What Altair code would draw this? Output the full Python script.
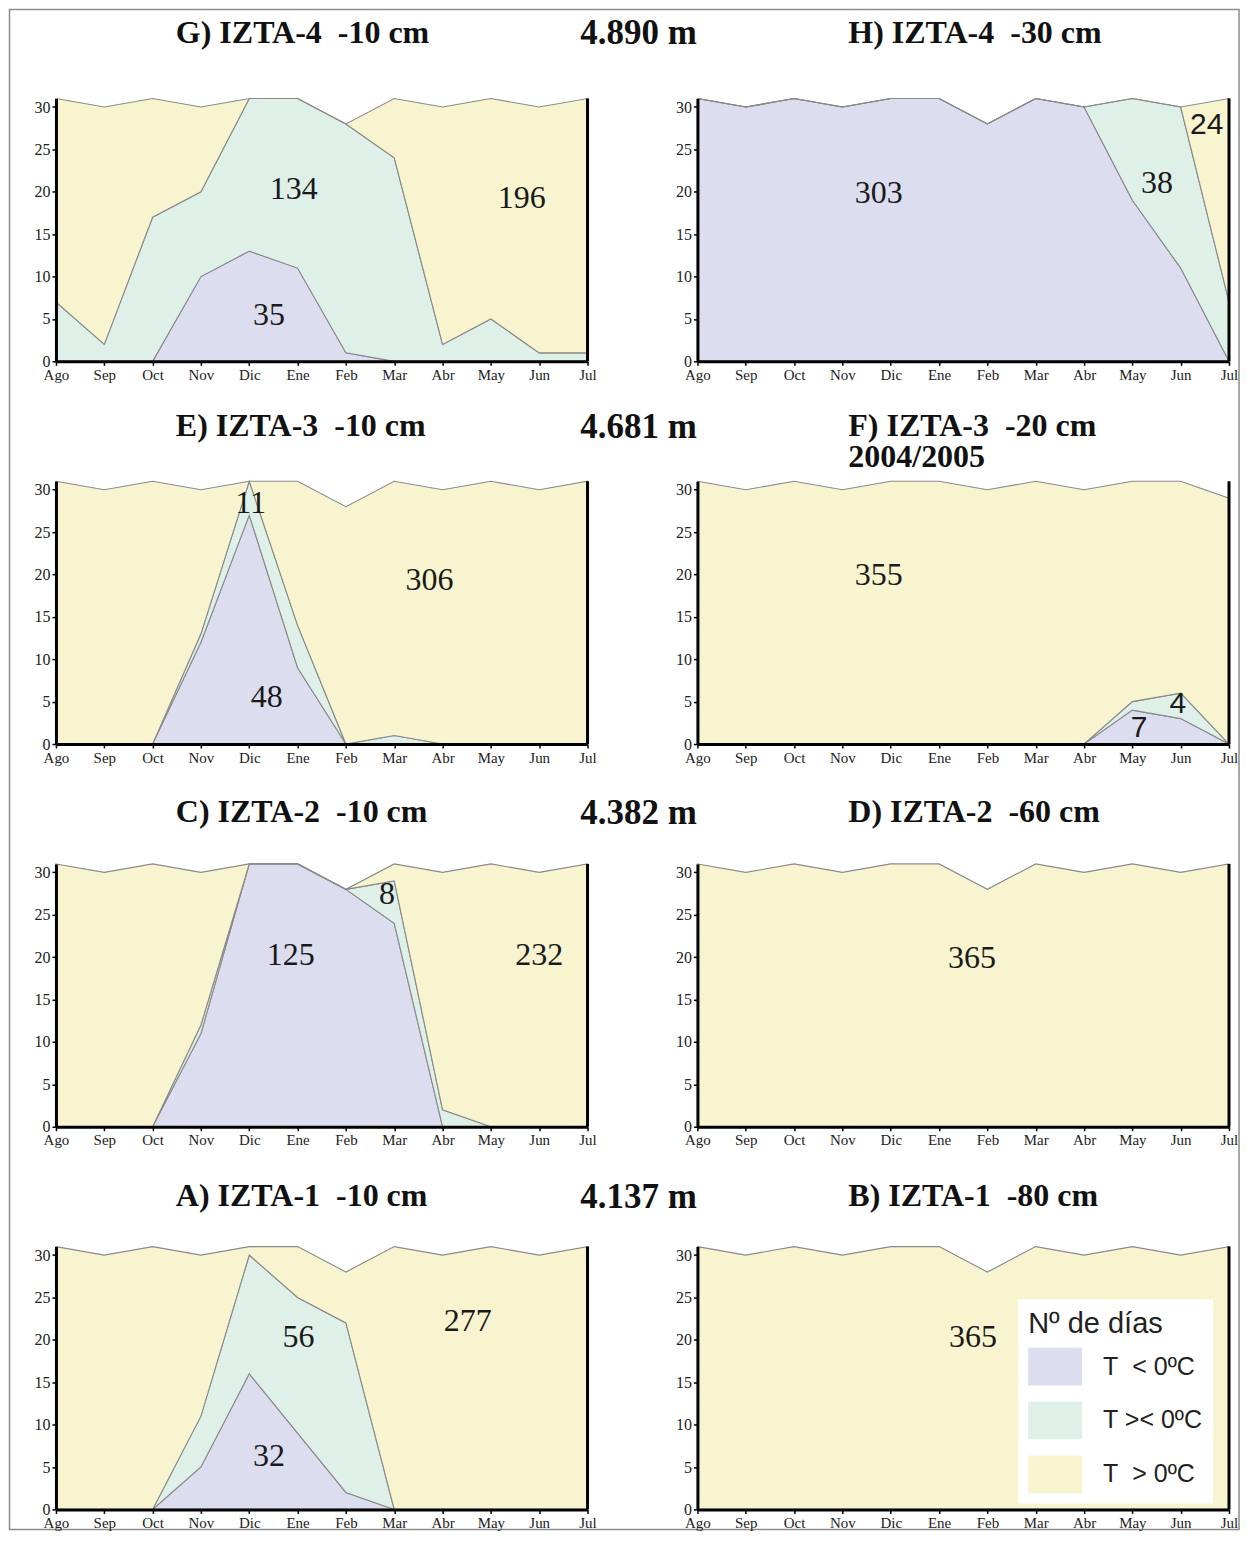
import json
import altair as alt
import pandas as pd

# ---------------- data ----------------
MONTHS = ["Ago", "Sep", "Oct", "Nov", "Dic", "Ene", "Feb", "Mar", "Abr", "May", "Jun", "Jul"]
CATEGORIES = ["T\u00a0\u00a0< 0ºC", "T >< 0ºC", "T\u00a0\u00a0> 0ºC"]
COLORS = ["#dcdef0", "#dff0e9", "#f7f4cf"]
Y_TICKS = [0, 5, 10, 15, 20, 25, 30]
ELEVATIONS = ["4.890 m", "4.681 m", "4.382 m", "4.137 m"]

# G) IZTA-4 -10 cm
G_frozen = [0, 0, 0, 10, 13, 11, 1, 0, 0, 0, 0, 0]
G_mixed = [7, 2, 17, 10, 18, 20, 27, 24, 2, 5, 1, 1]
G_warm = [24, 28, 14, 10, 0, 0, 0, 7, 28, 26, 29, 30]
# H) IZTA-4 -30 cm
H_frozen = [31, 30, 31, 30, 31, 31, 28, 31, 30, 19, 11, 0]
H_mixed = [0, 0, 0, 0, 0, 0, 0, 0, 0, 12, 19, 7]
H_warm = [0, 0, 0, 0, 0, 0, 0, 0, 0, 0, 0, 24]
# E) IZTA-3 -10 cm
E_frozen = [0, 0, 0, 12, 27, 9, 0, 0, 0, 0, 0, 0]
E_mixed = [0, 0, 0, 1, 4, 5, 0, 1, 0, 0, 0, 0]
E_warm = [31, 30, 31, 17, 0, 17, 28, 30, 30, 31, 30, 31]
# F) IZTA-3 -20 cm 2004/2005
F_frozen = [0, 0, 0, 0, 0, 0, 0, 0, 0, 4, 3, 0]
F_mixed = [0, 0, 0, 0, 0, 0, 0, 0, 0, 1, 3, 0]
F_warm = [31, 30, 31, 30, 31, 31, 30, 31, 30, 26, 25, 29]
# C) IZTA-2 -10 cm
C_frozen = [0, 0, 0, 11, 31, 31, 28, 24, 0, 0, 0, 0]
C_mixed = [0, 0, 0, 1, 0, 0, 0, 5, 2, 0, 0, 0]
C_warm = [31, 30, 31, 18, 0, 0, 0, 2, 28, 31, 30, 31]
# D) IZTA-2 -60 cm
D_frozen = [0, 0, 0, 0, 0, 0, 0, 0, 0, 0, 0, 0]
D_mixed = [0, 0, 0, 0, 0, 0, 0, 0, 0, 0, 0, 0]
D_warm = [31, 30, 31, 30, 31, 31, 28, 31, 30, 31, 30, 31]
# A) IZTA-1 -10 cm
A_frozen = [0, 0, 0, 5, 16, 9, 2, 0, 0, 0, 0, 0]
A_mixed = [0, 0, 0, 6, 14, 16, 20, 0, 0, 0, 0, 0]
A_warm = [31, 30, 31, 19, 1, 6, 6, 31, 30, 31, 30, 31]
# B) IZTA-1 -80 cm
B_frozen = [0, 0, 0, 0, 0, 0, 0, 0, 0, 0, 0, 0]
B_mixed = [0, 0, 0, 0, 0, 0, 0, 0, 0, 0, 0, 0]
B_warm = [31, 30, 31, 30, 31, 31, 28, 31, 30, 31, 30, 31]

# annotation totals: (text, month position, days position)
G_notes = [("134", 4.92, 20.3), ("196", 9.64, 19.3), ("35", 4.41, 5.5)]
H_notes = [("303", 3.75, 19.9), ("38", 9.51, 21.0)]
H_notes_sans = [("24", 10.54, 27.9)]
E_notes = [("11", 4.03, 28.4), ("306", 7.73, 19.4), ("48", 4.36, 5.6)]
F_notes = [("355", 3.75, 19.9)]
F_notes_sans = [("4", 9.94, 4.75), ("7", 9.14, 1.9)]
C_notes = [("125", 4.86, 20.3), ("8", 6.85, 27.4), ("232", 10.0, 20.3)]
D_notes = [("365", 5.68, 19.9)]
A_notes = [("56", 5.02, 20.3), ("277", 8.52, 22.2), ("32", 4.41, 6.3)]
B_notes = [("365", 5.70, 20.3)]

TITLES = {
    "G": "G) IZTA-4\u00a0\u00a0-10 cm", "H": "H) IZTA-4\u00a0\u00a0-30 cm",
    "E": "E) IZTA-3\u00a0\u00a0-10 cm", "F": "F) IZTA-3\u00a0\u00a0-20 cm",
    "C": "C) IZTA-2\u00a0\u00a0-10 cm", "D": "D) IZTA-2\u00a0\u00a0-60 cm",
    "A": "A) IZTA-1\u00a0\u00a0-10 cm", "B": "B) IZTA-1\u00a0\u00a0-80 cm",
}
F_SUBTITLE = "2004/2005"

# ---------------- layout / style ----------------
W, H = 532, 263
SERIF = "Liberation Serif"
SANS = "Liberation Sans"
TITLE_Y = [-55.75, -45.75, -41.75, -40.75]
ELEV_Y = [-54.25, -43.75, -39.75, -38.75]

label_expr = json.dumps(MONTHS) + "[datum.value]"
X_SCALE = alt.Scale(domain=[0, 11], nice=False, zero=False)
Y_SCALE = alt.Scale(domain=[0, 31], nice=False)
X_AXIS = alt.Axis(values=list(range(12)), labelExpr=label_expr, title=None, grid=False,
                  labelFont=SERIF, labelFontSize=15, labelColor="#222", labelFlush=False,
                  labelOverlap=False, labelPadding=2, tickSize=4, tickColor="black",
                  tickWidth=1.5, domainColor="black", domainWidth=3, zindex=2)
Y_AXIS = alt.Axis(values=Y_TICKS, title=None, grid=False, labelFont=SERIF, labelFontSize=16,
                  labelColor="#222", labelPadding=2, tickSize=4, tickColor="black",
                  tickWidth=1.5, domainColor="black", domainWidth=3, zindex=2)

LEGEND = alt.Legend(orient="none", legendX=321, legendY=53, title="Nº de días",
                    titleFont=SANS, titleFontSize=29, titleFontWeight="normal",
                    titleColor="#222", titlePadding=1, labelFont=SANS, labelFontSize=25,
                    labelColor="#222", labelOffset=21, symbolType="M-1,-0.7H1V0.7H-1Z",
                    symbolSize=2916, symbolStrokeWidth=0, symbolOpacity=1, rowPadding=8,
                    padding=10, fillColor="white")

one = pd.DataFrame({"k": [0]})


def text_value(txt, x, y, size, font=SERIF, weight="bold", align="left"):
    return alt.Chart(pd.DataFrame({"t": [txt]})).mark_text(
        font=font, fontSize=size, fontWeight=weight, align=align, baseline="alphabetic",
        color="#111").encode(x=alt.value(x), y=alt.value(y), text="t:N")


def notes_layer(notes, font, size):
    df = pd.DataFrame(notes, columns=["t", "mx", "dy"])
    return alt.Chart(df).mark_text(font=font, fontSize=size, color="#1a1a1a",
                                   baseline="middle").encode(
        x=alt.X("mx:Q", scale=X_SCALE, axis=X_AXIS),
        y=alt.Y("dy:Q", scale=Y_SCALE, axis=Y_AXIS),
        text="t:N")


def panel(key, row, col, frozen, mixed, warm, notes, notes_sans=None, legend=False):
    recs = []
    for i in range(len(MONTHS)):
        for k, series in enumerate((frozen, mixed, warm)):
            recs.append({"mes": i, "cat": CATEGORIES[k], "orden": k, "dias": series[i]})
    df = pd.DataFrame(recs)
    area = alt.Chart(df).mark_area(stroke="#8a8a8a", strokeWidth=1.1, fillOpacity=1).encode(
        x=alt.X("mes:Q", scale=X_SCALE, axis=X_AXIS),
        y=alt.Y("dias:Q", stack="zero", scale=Y_SCALE, axis=Y_AXIS),
        color=alt.Color("cat:N", scale=alt.Scale(domain=CATEGORIES, range=COLORS),
                        legend=LEGEND if legend else None),
        order=alt.Order("orden:Q", sort="ascending"),
    )
    edge = alt.Chart(one).mark_rule(color="black", strokeWidth=3).encode(
        x=alt.value(W), y=alt.value(0), y2=alt.value(H))
    layers = [area, edge, notes_layer(notes, SERIF, 32)]
    if notes_sans:
        layers.append(notes_layer(notes_sans, SANS, 30))
    if col == 0:
        layers.append(text_value(TITLES[key], 120, TITLE_Y[row], 32))
        layers.append(text_value(ELEVATIONS[row], 583, ELEV_Y[row], 35, align="center"))
    else:
        layers.append(text_value(TITLES[key], 151, TITLE_Y[row], 32))
    if key == "F":
        layers.append(text_value(F_SUBTITLE, 151, -13.75, 32))
    if key == "G":
        frame = alt.Chart(one).mark_rect(fillOpacity=0, stroke="#8c8c8c", strokeWidth=1.5).encode(
            x=alt.value(-46.5), x2=alt.value(1184), y=alt.value(-89), y2=alt.value(1432))
        layers.append(frame)
    return alt.layer(*layers).properties(width=W, height=H)


panels = [
    panel("G", 0, 0, G_frozen, G_mixed, G_warm, G_notes),
    panel("H", 0, 1, H_frozen, H_mixed, H_warm, H_notes, H_notes_sans),
    panel("E", 1, 0, E_frozen, E_mixed, E_warm, E_notes),
    panel("F", 1, 1, F_frozen, F_mixed, F_warm, F_notes, F_notes_sans),
    panel("C", 2, 0, C_frozen, C_mixed, C_warm, C_notes),
    panel("D", 2, 1, D_frozen, D_mixed, D_warm, D_notes),
    panel("A", 3, 0, A_frozen, A_mixed, A_warm, A_notes),
    panel("B", 3, 1, B_frozen, B_mixed, B_warm, B_notes, legend=True),
]

chart = alt.concat(*panels, columns=2, spacing={"row": 120, "column": 110},
                   bounds="flush").resolve_scale(color="independent").resolve_legend(
    color="independent").configure_view(stroke=None).properties(
    padding=0, background="white")

chart.save("out.html", embed_options={"renderer": "svg", "actions": False})
